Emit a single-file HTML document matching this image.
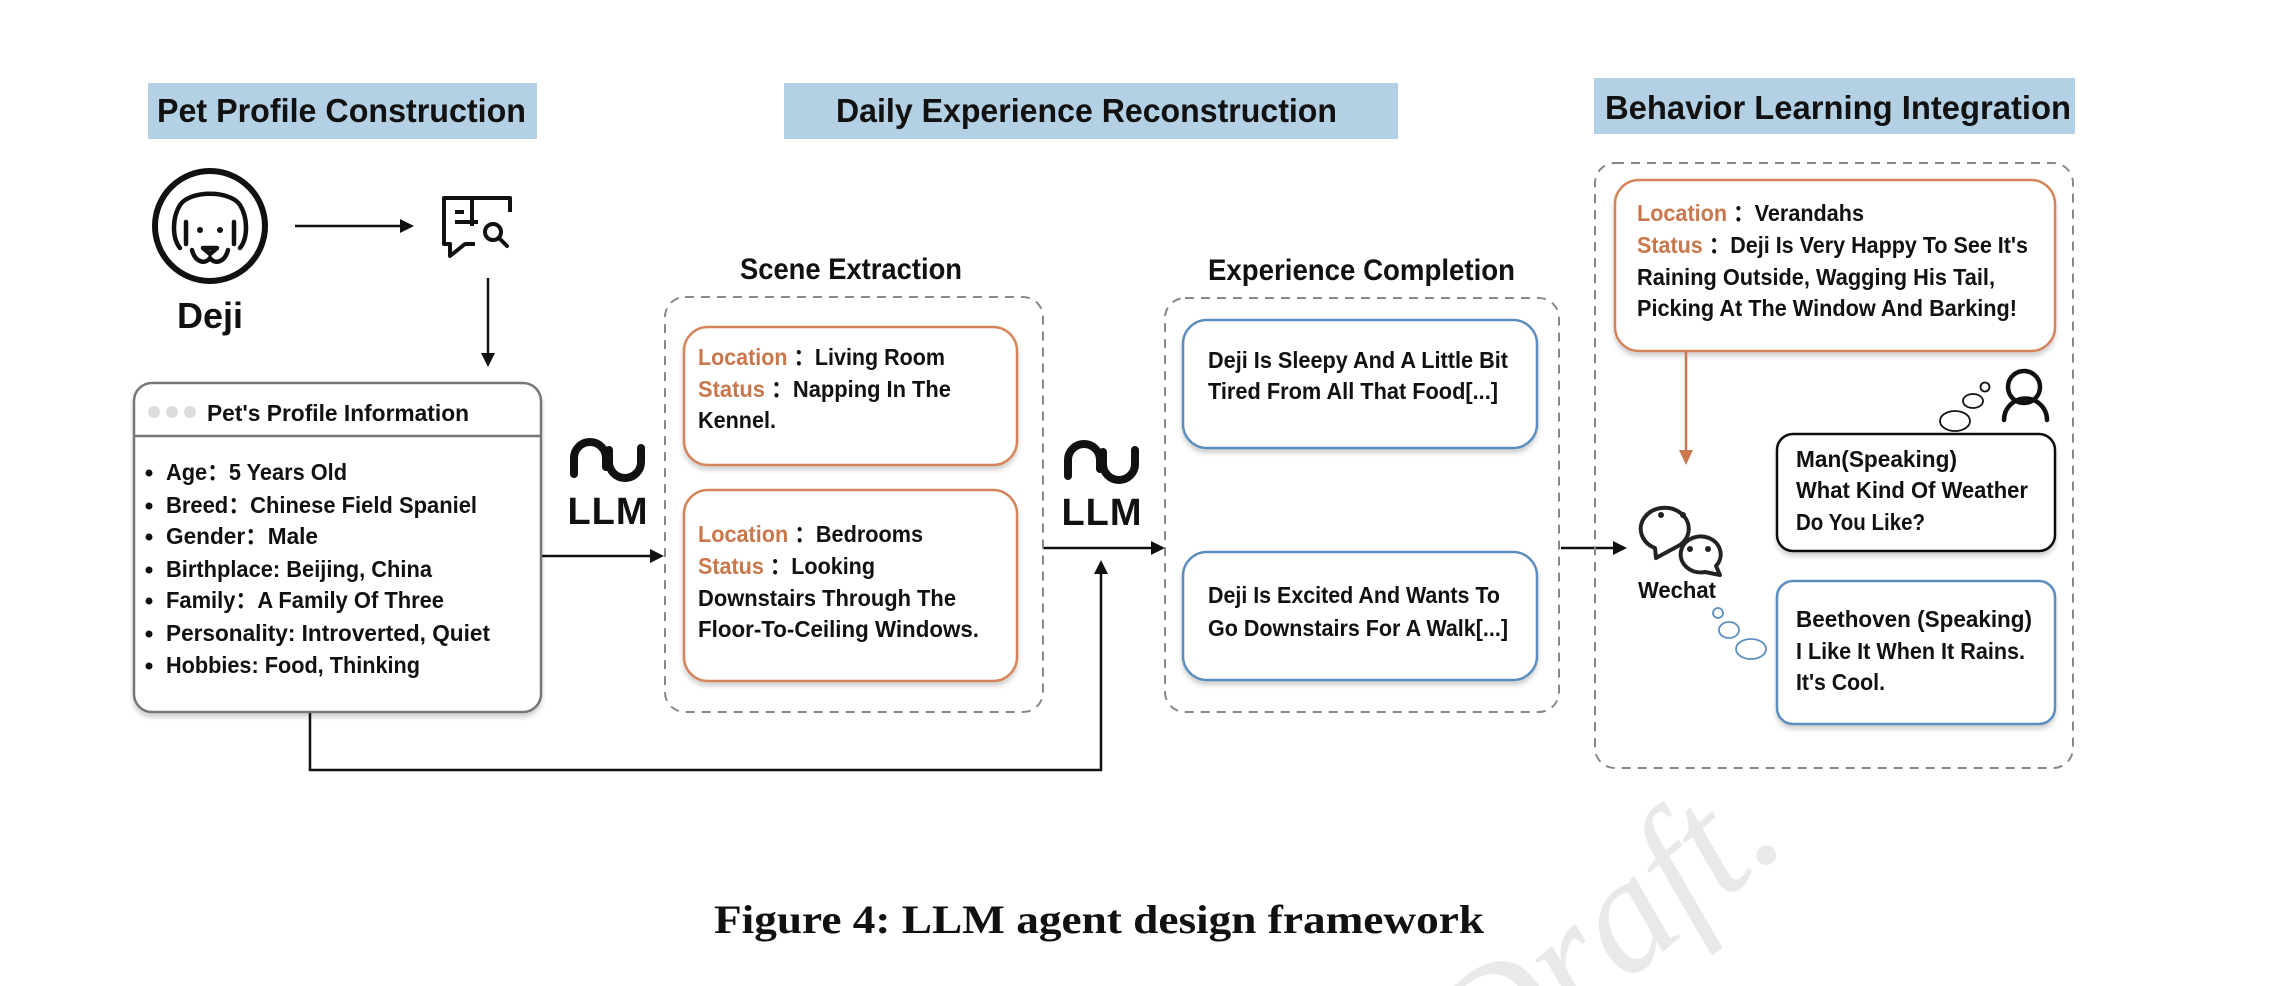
<!DOCTYPE html>
<html><head><meta charset="utf-8"><style>
html,body{margin:0;padding:0;background:#fff;width:2274px;height:986px;overflow:hidden;}
svg{display:block;}
text{font-family:"Liberation Sans","Noto Sans CJK SC",sans-serif;font-weight:bold;}
.b{font-size:23px;fill:#111;}
.o{fill:#c8784c;}
.h{font-size:33px;fill:#111;}
.t{font-size:30px;fill:#111;}
</style></head><body>
<svg width="2274" height="986" viewBox="0 0 2274 986" xmlns="http://www.w3.org/2000/svg" style="overflow:hidden">
<defs>
<filter id="sh" x="-5%" y="-5%" width="110%" height="115%"><feDropShadow dx="0" dy="4" stdDeviation="2.5" flood-color="#000" flood-opacity="0.18"/></filter>
<clipPath id="cp"><rect x="0" y="0" width="2274" height="986"/></clipPath>
</defs>
<!-- watermark -->
<g clip-path="url(#cp)">
<text x="1790" y="845" text-anchor="end" transform="rotate(-40 1790 845)" style="font-family:'Liberation Serif',serif;font-weight:normal;font-style:italic;font-size:165px;fill:#e9e9e9">Draft.</text>
</g>

<!-- headers -->
<rect x="148" y="83" width="389" height="56" fill="#b4d0e4"/>
<text class="h" x="157" y="122" textLength="369" lengthAdjust="spacingAndGlyphs">Pet Profile Construction</text>
<rect x="784" y="83" width="614" height="56" fill="#b4d0e4"/>
<text class="h" x="836" y="122" textLength="501" lengthAdjust="spacingAndGlyphs">Daily Experience Reconstruction</text>
<rect x="1594" y="78" width="481" height="56" fill="#b4d0e4"/>
<text class="h" x="1605" y="119" textLength="466" lengthAdjust="spacingAndGlyphs">Behavior Learning Integration</text>

<!-- dog icon -->
<circle cx="210" cy="226" r="55" fill="none" stroke="#111" stroke-width="6"/>
<g fill="none" stroke="#111" stroke-width="4.5" stroke-linecap="round" stroke-linejoin="round">
<path d="M180 248 C172 238 172 218 180 205 C190 190 230 190 240 205 C248 218 248 238 240 248"/>
<path d="M186 222 L186 244"/><path d="M234 222 L234 244"/>
<path d="M192 250 C195 262 205 265 210 258 C215 265 225 262 228 250"/>
<path d="M203 248 L210 254 L217 248 Z"/>
</g>
<circle cx="200" cy="230" r="3" fill="#111"/><circle cx="220" cy="230" r="3" fill="#111"/>

<!-- doc search icon -->
<g fill="none" stroke="#111" stroke-width="4" stroke-linejoin="round">
<path d="M472 226 L472 198 L510 198 L510 212"/>
<path d="M472 198 L444 198 L444 244 L450 244 L450 256 L465 244 L475 244"/>
<circle cx="493" cy="232" r="8"/><path d="M499 238 L507 246" stroke-linecap="round"/>
<path d="M455 212 L464 212"/><path d="M455 222 L478 222"/>
</g>
<text x="177" y="328" style="font-size:36px;fill:#111">Deji</text>

<!-- arrows black -->
<g stroke="#111" stroke-width="2.5" fill="none">
<path d="M295 226 L402 226"/>
<path d="M488 278 L488 355"/>
<path d="M541 556 L652 556"/>
<path d="M1043 548 L1153 548"/>
<path d="M310 712 L310 770 L1101 770 L1101 572"/>
<path d="M1561 548 L1615 548"/>
</g>
<g fill="#111">
<polygon points="414,226 400,219 400,233"/>
<polygon points="488,367 481,353 495,353"/>
<polygon points="664,556 650,549 650,563"/>
<polygon points="1165,548 1151,541 1151,555"/>
<polygon points="1101,560 1094,574 1108,574"/>
<polygon points="1627,548 1613,541 1613,555"/>
</g>

<!-- profile box -->
<rect x="134" y="383" width="407" height="329" rx="18" fill="#fff" stroke="#777" stroke-width="2.5" filter="url(#sh)"/>
<line x1="134" y1="436" x2="541" y2="436" stroke="#777" stroke-width="2.5"/>
<circle cx="154" cy="412" r="6" fill="#ddd"/><circle cx="172" cy="412" r="6" fill="#ddd"/><circle cx="190" cy="412" r="6" fill="#ddd"/>
<text class="b" x="207" y="421" textLength="262" lengthAdjust="spacingAndGlyphs">Pet's Profile Information</text>
<g fill="#111"><circle cx="149" cy="473" r="3.5"/><circle cx="149" cy="506" r="3.5"/><circle cx="149" cy="537" r="3.5"/><circle cx="149" cy="570" r="3.5"/><circle cx="149" cy="601" r="3.5"/><circle cx="149" cy="634" r="3.5"/><circle cx="149" cy="666" r="3.5"/></g>
<text class="b" x="166" y="480" textLength="181" lengthAdjust="spacingAndGlyphs">Age：5 Years Old</text>
<text class="b" x="166" y="513" textLength="311" lengthAdjust="spacingAndGlyphs">Breed：Chinese Field Spaniel</text>
<text class="b" x="166" y="544" textLength="152" lengthAdjust="spacingAndGlyphs">Gender：Male</text>
<text class="b" x="166" y="577" textLength="266" lengthAdjust="spacingAndGlyphs">Birthplace: Beijing, China</text>
<text class="b" x="166" y="608" textLength="278" lengthAdjust="spacingAndGlyphs">Family：A Family Of Three</text>
<text class="b" x="166" y="641" textLength="324" lengthAdjust="spacingAndGlyphs">Personality: Introverted, Quiet</text>
<text class="b" x="166" y="673" textLength="254" lengthAdjust="spacingAndGlyphs">Hobbies: Food, Thinking</text>

<!-- LLM icons -->
<g fill="none" stroke="#111" stroke-width="8" stroke-linecap="round">
<path d="M574 474 L574 458 A16 16 0 0 1 606 458 L606 467"/>
<path d="M609 450 L609 462 A16 16 0 0 0 641 462 L641 448"/>
</g>
<text x="608" y="524" text-anchor="middle" style="font-size:38px;font-weight:900;fill:#111;letter-spacing:1px">LLM</text>
<g fill="none" stroke="#111" stroke-width="8" stroke-linecap="round">
<path d="M1068 476 L1068 460 A16 16 0 0 1 1100 460 L1100 469"/>
<path d="M1103 452 L1103 464 A16 16 0 0 0 1135 464 L1135 450"/>
</g>
<text x="1102" y="525" text-anchor="middle" style="font-size:38px;font-weight:900;fill:#111;letter-spacing:1px">LLM</text>

<!-- Scene extraction -->
<text class="t" x="740" y="279" textLength="222" lengthAdjust="spacingAndGlyphs">Scene Extraction</text>
<rect x="665" y="297" width="378" height="415" rx="20" fill="none" stroke="#888" stroke-width="2" stroke-dasharray="9 7"/>
<rect x="684" y="327" width="333" height="138" rx="24" fill="#fff" stroke="#d4845a" stroke-width="2.5" filter="url(#sh)"/>
<text class="b" x="698" y="365" textLength="247" lengthAdjust="spacingAndGlyphs"><tspan class="o">Location</tspan> ：Living Room</text>
<text class="b" x="698" y="397" textLength="253" lengthAdjust="spacingAndGlyphs"><tspan class="o">Status</tspan> ：Napping In The</text>
<text class="b" x="698" y="428" textLength="78" lengthAdjust="spacingAndGlyphs">Kennel.</text>
<rect x="684" y="490" width="333" height="191" rx="24" fill="#fff" stroke="#d4845a" stroke-width="2.5" filter="url(#sh)"/>
<text class="b" x="698" y="542" textLength="225" lengthAdjust="spacingAndGlyphs"><tspan class="o">Location</tspan> ：Bedrooms</text>
<text class="b" x="698" y="574" textLength="177" lengthAdjust="spacingAndGlyphs"><tspan class="o">Status</tspan> ：Looking</text>
<text class="b" x="698" y="606" textLength="258" lengthAdjust="spacingAndGlyphs">Downstairs Through The</text>
<text class="b" x="698" y="637" textLength="281" lengthAdjust="spacingAndGlyphs">Floor-To-Ceiling Windows.</text>

<!-- Experience completion -->
<text class="t" x="1208" y="280" textLength="307" lengthAdjust="spacingAndGlyphs">Experience Completion</text>
<rect x="1165" y="298" width="394" height="414" rx="20" fill="none" stroke="#888" stroke-width="2" stroke-dasharray="9 7"/>
<rect x="1183" y="320" width="354" height="128" rx="24" fill="#fff" stroke="#5b8fc0" stroke-width="2.5" filter="url(#sh)"/>
<text class="b" x="1208" y="368" textLength="300" lengthAdjust="spacingAndGlyphs">Deji Is Sleepy And A Little Bit</text>
<text class="b" x="1208" y="399" textLength="290" lengthAdjust="spacingAndGlyphs">Tired From All That Food[...]</text>
<rect x="1183" y="552" width="354" height="128" rx="24" fill="#fff" stroke="#5b8fc0" stroke-width="2.5" filter="url(#sh)"/>
<text class="b" x="1208" y="603" textLength="292" lengthAdjust="spacingAndGlyphs">Deji Is Excited And Wants To</text>
<text class="b" x="1208" y="636" textLength="300" lengthAdjust="spacingAndGlyphs">Go Downstairs For A Walk[...]</text>

<!-- Behavior learning -->
<rect x="1595" y="163" width="478" height="605" rx="20" fill="none" stroke="#888" stroke-width="2" stroke-dasharray="9 7"/>
<rect x="1615" y="180" width="440" height="171" rx="24" fill="#fff" stroke="#d4845a" stroke-width="2.5" filter="url(#sh)"/>
<text class="b" x="1637" y="221" textLength="227" lengthAdjust="spacingAndGlyphs"><tspan class="o">Location</tspan> ：Verandahs</text>
<text class="b" x="1637" y="253" textLength="391" lengthAdjust="spacingAndGlyphs"><tspan class="o">Status</tspan> ：Deji Is Very Happy To See It's</text>
<text class="b" x="1637" y="285" textLength="358" lengthAdjust="spacingAndGlyphs">Raining Outside, Wagging His Tail,</text>
<text class="b" x="1637" y="316" textLength="380" lengthAdjust="spacingAndGlyphs">Picking At The Window And Barking!</text>
<line x1="1686" y1="351" x2="1686" y2="452" stroke="#c8784c" stroke-width="2.5"/>
<polygon points="1686,465 1679,450 1693,450" fill="#c8784c"/>

<!-- person + bubbles -->
<circle cx="2024" cy="387" r="16" fill="none" stroke="#111" stroke-width="4.5"/>
<path d="M2004 420 A21 21 0 0 1 2047 420" fill="none" stroke="#111" stroke-width="4.5" stroke-linecap="round"/>
<g fill="none" stroke="#111" stroke-width="1.8">
<circle cx="1985" cy="387" r="4.5"/><ellipse cx="1973" cy="401" rx="10" ry="7"/><ellipse cx="1955" cy="421" rx="15" ry="10"/>
</g>
<rect x="1777" y="434" width="278" height="117" rx="16" fill="#fff" stroke="#111" stroke-width="2.5" filter="url(#sh)"/>
<text class="b" x="1796" y="467" textLength="161" lengthAdjust="spacingAndGlyphs">Man(Speaking)</text>
<text class="b" x="1796" y="498" textLength="232" lengthAdjust="spacingAndGlyphs">What Kind Of Weather</text>
<text class="b" x="1796" y="530" textLength="129" lengthAdjust="spacingAndGlyphs">Do You Like?</text>

<!-- wechat -->
<g stroke="#222" stroke-width="4" fill="#fff" stroke-linejoin="round">
<path d="M1655 548 A24 21 0 1 1 1680 545 L1656 558 Z"/>
<path d="M1720 575 L1716 566 A20 18 0 1 0 1705 572 Z"/>
</g>
<g fill="#222"><circle cx="1661" cy="515" r="3"/><circle cx="1683" cy="515" r="3"/><circle cx="1690" cy="549" r="3"/><circle cx="1708" cy="549" r="3"/></g>
<text x="1638" y="598" textLength="78" lengthAdjust="spacingAndGlyphs" style="font-size:23px;fill:#111">Wechat</text>
<g fill="none" stroke="#5b8fc0" stroke-width="1.8">
<circle cx="1718" cy="613" r="5"/><ellipse cx="1729" cy="630" rx="10" ry="8"/><ellipse cx="1751" cy="649" rx="15" ry="10"/>
</g>
<rect x="1777" y="581" width="278" height="143" rx="16" fill="#fff" stroke="#5b8fc0" stroke-width="2.5" filter="url(#sh)"/>
<text class="b" x="1796" y="627" textLength="236" lengthAdjust="spacingAndGlyphs">Beethoven (Speaking)</text>
<text class="b" x="1796" y="659" textLength="229" lengthAdjust="spacingAndGlyphs">I Like It When It Rains.</text>
<text class="b" x="1796" y="690" textLength="89" lengthAdjust="spacingAndGlyphs">It's Cool.</text>

<!-- caption -->
<text x="714" y="933" textLength="770" lengthAdjust="spacingAndGlyphs" style="font-family:'Liberation Serif',serif;font-size:40px;fill:#111">Figure 4: LLM agent design framework</text>
</svg>
</body></html>
